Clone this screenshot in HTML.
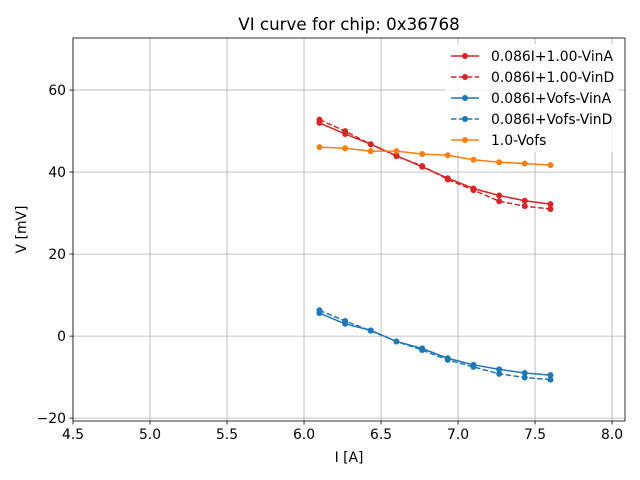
<!DOCTYPE html>
<html><head><meta charset="utf-8"><style>body{margin:0;background:#fff}svg{display:block;font-family:"DejaVu Sans","Liberation Sans",sans-serif}</style></head>
<body>
<svg id="chart" width="640" height="480"></svg>
<script>
const xs = [6.1, 6.267, 6.433, 6.6, 6.767, 6.933, 7.1, 7.267, 7.433, 7.6];
const redA = [52.0, 49.3, 46.8, 44.0, 41.3, 38.5, 36.0, 34.3, 33.0, 32.2];
const redD = [52.8, 50.0, 46.8, 43.9, 41.5, 38.2, 35.6, 32.9, 31.7, 31.0];
const blueA = [5.6, 3.0, 1.4, -1.3, -3.0, -5.4, -7.0, -8.1, -9.0, -9.5];
const blueD = [6.3, 3.7, 1.3, -1.3, -3.4, -5.8, -7.5, -9.2, -10.1, -10.6];
const orange = [46.1, 45.8, 45.1, 45.1, 44.4, 44.1, 43.0, 42.4, 42.1, 41.7];
const xTicks = [4.5, 5.0, 5.5, 6.0, 6.5, 7.0, 7.5, 8.0];
const yTicks = [-20, 0, 20, 40, 60];
const legendLabels = ["0.086I+1.00-VinA","0.086I+1.00-VinD","0.086I+Vofs-VinA","0.086I+Vofs-VinD","1.0-Vofs"];

const NS="http://www.w3.org/2000/svg";
const svg=document.getElementById('chart');
const L=73,R=625,T=38,B=421,xmin=4.5,xmax=8.084,ymin=-20.7,ymax=72.7;
const X=v=>L+(v-xmin)/(xmax-xmin)*(R-L);
const Y=v=>B-(v-ymin)/(ymax-ymin)*(B-T);
function el(t,a,p){const e=document.createElementNS(NS,t);for(const k in a)e.setAttribute(k,a[k]);(p||svg).appendChild(e);return e;}
function txt(s,a){const e=el('text',a);e.textContent=s;return e;}

xTicks.forEach(v=>{
  const g=el('line',{x1:X(v),x2:X(v),y1:T,y2:B,stroke:'#b0b0b0','stroke-width':0.8});
  
  
  el('line',{x1:X(v),x2:X(v),y1:B,y2:B+3.5,stroke:'#000','stroke-width':0.8});
  const t=txt(v.toFixed(1),{x:X(v),y:B+18,'text-anchor':'middle','font-size':13.9,fill:'#000'});
  
  
});
yTicks.forEach(v=>{
  const g=el('line',{x1:L,x2:R,y1:Y(v),y2:Y(v),stroke:'#b0b0b0','stroke-width':0.8});
  
  
  el('line',{x1:L-3.5,x2:L,y1:Y(v),y2:Y(v),stroke:'#000','stroke-width':0.8});
  const t=txt(v<0?'\u2212'+(-v):String(v),{x:L-7,y:Y(v)+5,'text-anchor':'end','font-size':13.9,fill:'#000'});
  
  
});

const series=[[redA,'#d62728',''],[redD,'#d62728','5.5,2.4'],[blueA,'#1f77b4',''],[blueD,'#1f77b4','5.5,2.4'],[orange,'#ff7f0e','']];
const names=['series-red-vina','series-red-vind','series-blue-vina','series-blue-vind','series-orange-vofs'];
series.forEach((s,i)=>{
  const g=el('g',{});
  
  
  el('polyline',{points:xs.map((x,j)=>X(x)+','+Y(s[0][j])).join(' '),fill:'none',stroke:s[1],'stroke-width':1.5,'stroke-dasharray':s[2]||'none'},g);
  xs.forEach((x,j)=>el('circle',{cx:X(x),cy:Y(s[0][j]),r:3,fill:s[1]},g));
});

const frame=el('rect',{x:L,y:T,width:R-L,height:B-T,fill:'none',stroke:'#000','stroke-width':0.8});



const title=txt('VI curve for chip: 0x36768',{x:(L+R)/2,y:T-8,'text-anchor':'middle','font-size':16.7,fill:'#000'});


const xl=txt('I [A]',{x:(L+R)/2,y:462,'text-anchor':'middle','font-size':13.9,fill:'#000'});


const yl=txt('V [mV]',{x:0,y:0,'text-anchor':'middle','font-size':13.9,fill:'#000',transform:'translate(26,'+((T+B)/2)+') rotate(-90)'});



const lg=el('g',{});


el('rect',{x:445,y:44,width:174,height:108,fill:'#fff','fill-opacity':0.8,stroke:'none',rx:2},lg);
legendLabels.forEach((lab,i)=>{
  const y=56+i*21;
  const e=el('g',{},lg);
  
  
  el('line',{x1:451,x2:479,y1:y,y2:y,stroke:series[i][1],'stroke-width':1.5,'stroke-dasharray':series[i][2]||'none'},e);
  el('circle',{cx:465,cy:y,r:3,fill:series[i][1]},e);
  const t=el('text',{x:491,y:y+5,'font-size':13.9,fill:'#000'},e);
  t.textContent=lab;
});
</script>
</body></html>
